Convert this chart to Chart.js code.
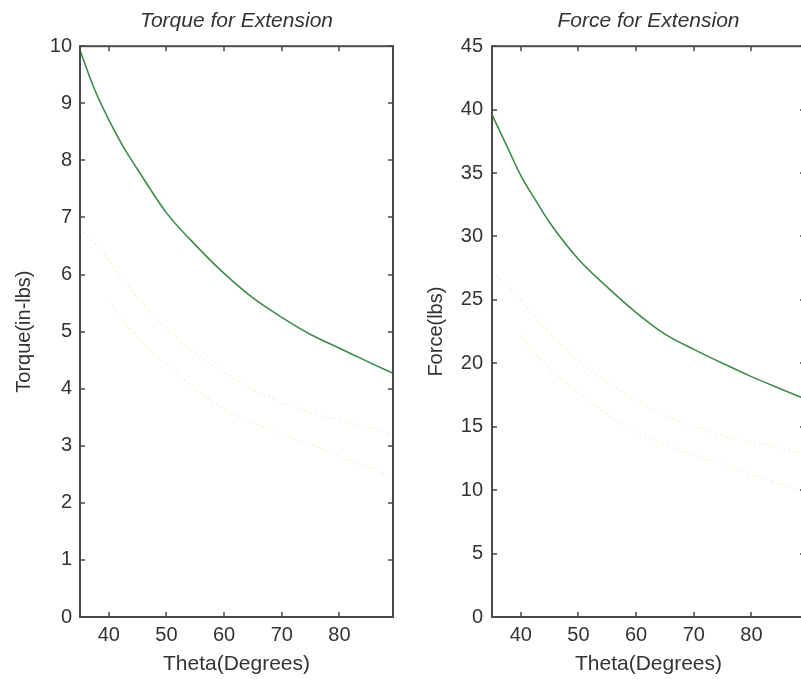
<!DOCTYPE html>
<html>
<head>
<meta charset="utf-8">
<script src="https://cdn.jsdelivr.net/npm/chart.js@4.4.1/dist/chart.umd.min.js"></script>
<style>
  html, body { margin: 0; padding: 0; background: #fff; overflow: hidden; }
  #wrap { position: relative; width: 801px; height: 679px; overflow: hidden; }
  #torqueChart { position: absolute; left: 0; top: 0; }
  #forceChart { position: absolute; left: 400px; top: 0; }
</style>
</head>
<body>
<div id="wrap">
  <canvas id="torqueChart" width="400" height="679"></canvas>
  <canvas id="forceChart" width="410" height="679"></canvas>
</div>
<script>
// theta samples (degrees)
const thetaDeg = [35, 37.5, 40, 42.5, 45, 50, 55, 60, 65, 70, 75, 80, 85, 89.3];

// torque for extension (in-lbs)
const torqueExt = [9.93, 9.25, 8.71, 8.24, 7.84, 7.08, 6.52, 6.02, 5.59, 5.25, 4.95, 4.71, 4.47, 4.27];
const torqueFaintA = [6.8, 6.55, 6.25, 5.9, 5.6, 5.05, 4.62, 4.28, 3.98, 3.76, 3.58, 3.45, 3.32, 3.2];
const torqueFaintB = [null, null, 5.55, 5.2, 4.9, 4.42, 4.0, 3.64, 3.4, 3.2, 3.02, 2.82, 2.62, 2.45];

// force for extension (lbs)
const forceExt = [39.6, 37.2, 34.8, 32.9, 31.1, 28.2, 26.0, 24.0, 22.3, 21.1, 20.0, 18.95, 18.0, 17.2];
const forceFaintA = [27.2, 26.2, 25.0, 23.6, 22.4, 20.2, 18.5, 17.1, 15.9, 15.0, 14.3, 13.8, 13.3, 12.8];
const forceFaintB = [null, null, 22.2, 20.8, 19.6, 17.7, 16.0, 14.6, 13.6, 12.8, 12.1, 11.3, 10.5, 9.8];

const xTicks = [40, 50, 60, 70, 80];
const torqueTicks = [0, 1, 2, 3, 4, 5, 6, 7, 8, 9, 10];
const forceTicks = [0, 5, 10, 15, 20, 25, 30, 35, 40, 45];

const FONT = "'Liberation Sans', Arial, sans-serif";
const TEXT = '#333333';
const FS = 20;

function pts(ys) {
  return thetaDeg.map((t, i) => ({ x: t, y: ys[i] }));
}

// box around the axes with inward tick marks on all four sides
const axesBox = {
  id: 'axesBox',
  afterDatasetsDraw(chart) {
    const { ctx, chartArea: a, scales: { x, y } } = chart;
    ctx.save();
    ctx.strokeStyle = '#4a4a4a';
    ctx.lineWidth = 2;
    ctx.strokeRect(a.left, a.top, a.width, a.height);
    ctx.lineWidth = 1.5;
    ctx.beginPath();
    x.ticks.forEach(t => {
      const px = Math.round(x.getPixelForValue(t.value));
      ctx.moveTo(px, a.bottom); ctx.lineTo(px, a.bottom - 5);
      ctx.moveTo(px, a.top); ctx.lineTo(px, a.top + 5);
    });
    y.ticks.forEach(t => {
      const py = Math.round(y.getPixelForValue(t.value));
      ctx.moveTo(a.left, py); ctx.lineTo(a.left + 5, py);
      ctx.moveTo(a.right, py); ctx.lineTo(a.right - 5, py);
    });
    ctx.stroke();
    ctx.restore();
  }
};

function makeChart(id, opts) {
  const faint = {
    borderColor: '#f3f3d6',
    borderWidth: 1.5,
    borderDash: [2, 3],
    pointRadius: 0,
    cubicInterpolationMode: 'monotone',
    spanGaps: false
  };
  return new Chart(document.getElementById(id), {
    type: 'line',
    data: {
      datasets: [
        Object.assign({ data: pts(opts.faintA) }, faint),
        Object.assign({ data: pts(opts.faintB) }, faint),
        {
          data: pts(opts.main),
          borderColor: '#3f8a4c',
          borderWidth: 1.6,
          pointRadius: 0,
          cubicInterpolationMode: 'monotone'
        }
      ]
    },
    options: {
      responsive: false,
      animation: false,
      devicePixelRatio: 1,
      layout: { padding: { left: 0, right: opts.padRight, top: 0, bottom: 0 } },
      plugins: {
        legend: { display: false },
        tooltip: { enabled: false },
        title: {
          display: true,
          fullSize: false,
          text: opts.title,
          color: TEXT,
          font: { family: FONT, size: 21, style: 'italic', weight: 'normal' },
          padding: { top: 9, bottom: 12 }
        }
      },
      scales: {
        x: {
          type: 'linear',
          min: 35,
          max: 89.3,
          afterBuildTicks: s => { s.ticks = xTicks.map(v => ({ value: v })); },
          afterFit: s => { s.height = 62; },
          grid: { display: false, drawTicks: false },
          border: { display: false },
          ticks: { color: TEXT, padding: 6, font: { family: FONT, size: FS } },
          title: {
            display: true,
            text: 'Theta(Degrees)',
            color: TEXT,
            font: { family: FONT, size: 21 },
            padding: { top: 0, bottom: 2 }
          }
        },
        y: {
          type: 'linear',
          min: 0,
          max: opts.yMax,
          afterBuildTicks: s => { s.ticks = opts.yTicks.map(v => ({ value: v })); },
          afterFit: s => { s.width = opts.yWidth; },
          grid: { display: false, drawTicks: false },
          border: { display: false },
          ticks: { color: TEXT, padding: opts.tickPad, font: { family: FONT, size: FS } },
          title: {
            display: true,
            text: opts.yTitle,
            color: TEXT,
            font: { family: FONT, size: FS },
            padding: { top: opts.yTitlePad, bottom: 0 }
          }
        }
      }
    },
    plugins: [axesBox]
  });
}

makeChart('torqueChart', {
  title: 'Torque for Extension',
  yTitle: 'Torque(in-lbs)',
  main: torqueExt, faintA: torqueFaintA, faintB: torqueFaintB,
  yMax: 10, yTicks: torqueTicks,
  yWidth: 80, tickPad: 8, yTitlePad: 12, padRight: 7
});

makeChart('forceChart', {
  title: 'Force for Extension',
  yTitle: 'Force(lbs)',
  main: forceExt, faintA: forceFaintA, faintB: forceFaintB,
  yMax: 45, yTicks: forceTicks,
  yWidth: 92, tickPad: 9, yTitlePad: 24, padRight: 5
});
</script>
</body>
</html>
